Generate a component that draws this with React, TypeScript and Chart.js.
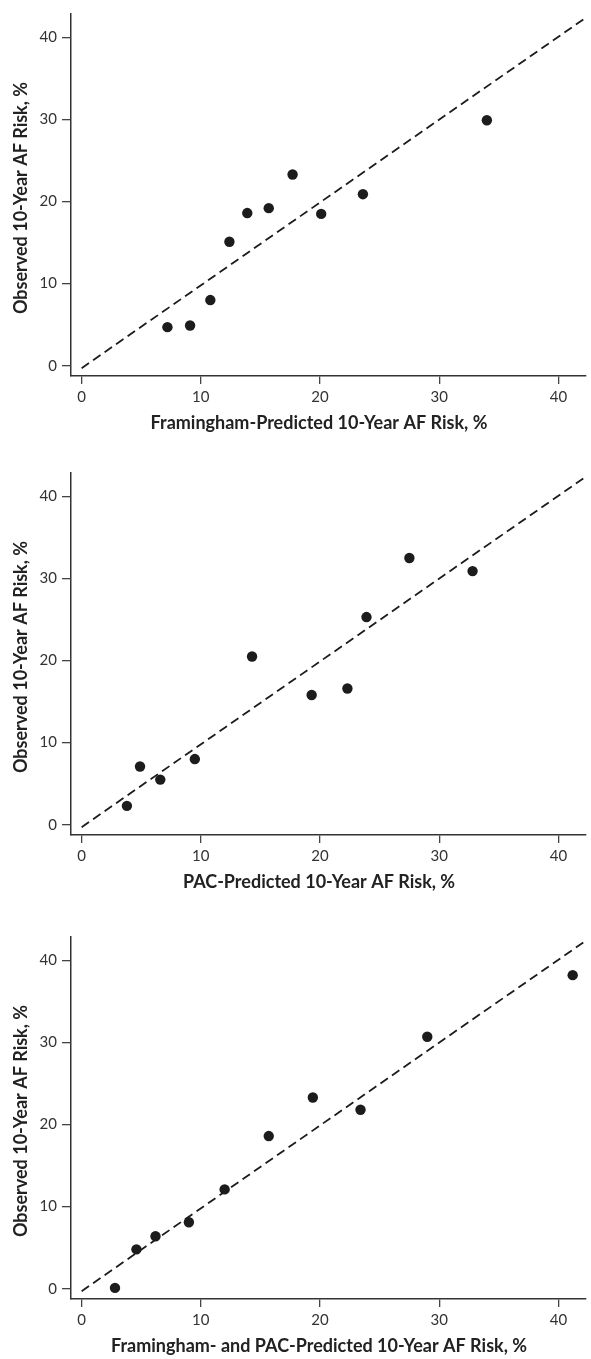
import React, { useEffect, useRef } from "react";
import { Chart, registerables } from "chart.js";

Chart.register(...registerables);

// ---- data ----
const tickValues = [0, 10, 20, 30, 40];
const yAxisTitle = "Observed 10-Year AF Risk, %";

const framinghamPredicted = [7.2, 9.1, 10.8, 12.4, 13.9, 15.7, 17.7, 20.1, 23.6, 34.0];
const framinghamObserved = [4.7, 4.9, 8.0, 15.1, 18.6, 19.2, 23.3, 18.5, 20.9, 29.9];

const pacPredicted = [3.8, 4.9, 6.6, 9.5, 14.3, 19.3, 22.3, 23.9, 27.5, 32.8];
const pacObserved = [2.3, 7.1, 5.5, 8.0, 20.5, 15.8, 16.6, 25.3, 32.5, 30.9];

const combinedPredicted = [2.8, 4.6, 6.2, 9.0, 12.0, 15.7, 19.4, 23.4, 29.0, 41.2];
const combinedObserved = [0.1, 4.8, 6.4, 8.1, 12.1, 18.6, 23.3, 21.8, 30.7, 38.2];

const referenceX = [0, 42.3];
const referenceY = [-0.3, 42.4];

const xTitles = [
  "Framingham-Predicted 10-Year AF Risk, %",
  "PAC-Predicted 10-Year AF Risk, %",
  "Framingham- and PAC-Predicted 10-Year AF Risk, %",
];

// ---- styles ----
const CANVAS_W = 591;
const CANVAS_H = 435;
const INK = "#1c1c1c";
const FONT = "Lato, 'Open Sans', sans-serif";

const axisTitlePlugin = {
  id: "axisTitles",
  afterDraw(chart: any, _args: any, opts: any) {
    const { ctx, chartArea, scales } = chart;
    ctx.save();
    ctx.fillStyle = "#222";
    ctx.font = `bold 18px ${FONT}`;
    ctx.textAlign = "center";
    ctx.textBaseline = "middle";
    ctx.fillText(opts.x, scales.x.getPixelForValue(20) - 1, chartArea.bottom + 47);
    ctx.translate(21, (chartArea.top + chartArea.bottom) / 2 + 3);
    ctx.rotate(-Math.PI / 2);
    ctx.fillText(opts.y, 0, 0);
    ctx.restore();
  },
};

function Panel({ top, predicted, observed, xTitle }: { top: number; predicted: number[]; observed: number[]; xTitle: string }) {
  const ref = useRef<HTMLCanvasElement | null>(null);
  useEffect(() => {
    if (!ref.current) return;
    const chart = new Chart(ref.current, {
      type: "scatter",
      data: {
        datasets: [
          {
            type: "line",
            data: referenceX.map((x, i) => ({ x, y: referenceY[i] })),
            borderColor: INK,
            borderWidth: 1.8,
            borderDash: [9, 5],
            pointRadius: 0,
            fill: false,
            tension: 0,
            order: 2,
          } as any,
          {
            type: "scatter",
            data: predicted.map((x, i) => ({ x, y: observed[i] })),
            backgroundColor: INK,
            borderColor: INK,
            borderWidth: 0,
            pointRadius: 5.2,
            order: 1,
          } as any,
        ],
      },
      options: {
        responsive: false,
        animation: false,
        devicePixelRatio: 1,
        layout: { padding: { top: 12, right: 0, bottom: 0, left: 0 } },
        plugins: {
          legend: { display: false },
          tooltip: { enabled: false },
          axisTitles: { x: xTitle, y: yAxisTitle },
        } as any,
        scales: {
          x: {
            type: "linear",
            min: -0.89,
            max: 42.3,
            afterBuildTicks: (s: any) => {
              s.ticks = tickValues.map((v) => ({ value: v }));
            },
            afterFit: (s: any) => {
              s.height = 59;
            },
            grid: { display: true, drawOnChartArea: false, drawTicks: true, tickLength: 8, color: "#444", lineWidth: 1.3 },
            border: { display: true, color: "#333", width: 1.5 },
            ticks: { font: { family: FONT, size: 15 }, color: "#333", padding: 4, maxRotation: 0 },
          },
          y: {
            type: "linear",
            min: -1.25,
            max: 42.85,
            afterBuildTicks: (s: any) => {
              s.ticks = tickValues.map((v) => ({ value: v }));
            },
            afterFit: (s: any) => {
              s.width = 71;
            },
            grid: { display: true, drawOnChartArea: false, drawTicks: true, tickLength: 9, color: "#444", lineWidth: 1.3 },
            border: { display: true, color: "#333", width: 1.5 },
            ticks: { font: { family: FONT, size: 15 }, color: "#333", padding: 5 },
          },
        },
      } as any,
      plugins: [axisTitlePlugin],
    });
    return () => chart.destroy();
  }, [predicted, observed, xTitle]);
  return (
    <canvas
      ref={ref}
      width={CANVAS_W}
      height={CANVAS_H}
      style={{ position: "absolute", left: 0, top, width: CANVAS_W, height: CANVAS_H }}
    />
  );
}

export default function App() {
  return (
    <div style={{ position: "absolute", left: 0, top: 0, width: 591, height: 1359, background: "#fff", overflow: "hidden" }}>
      <Panel top={0} predicted={framinghamPredicted} observed={framinghamObserved} xTitle={xTitles[0]} />
      <Panel top={459} predicted={pacPredicted} observed={pacObserved} xTitle={xTitles[1]} />
      <Panel top={923} predicted={combinedPredicted} observed={combinedObserved} xTitle={xTitles[2]} />
    </div>
  );
}
